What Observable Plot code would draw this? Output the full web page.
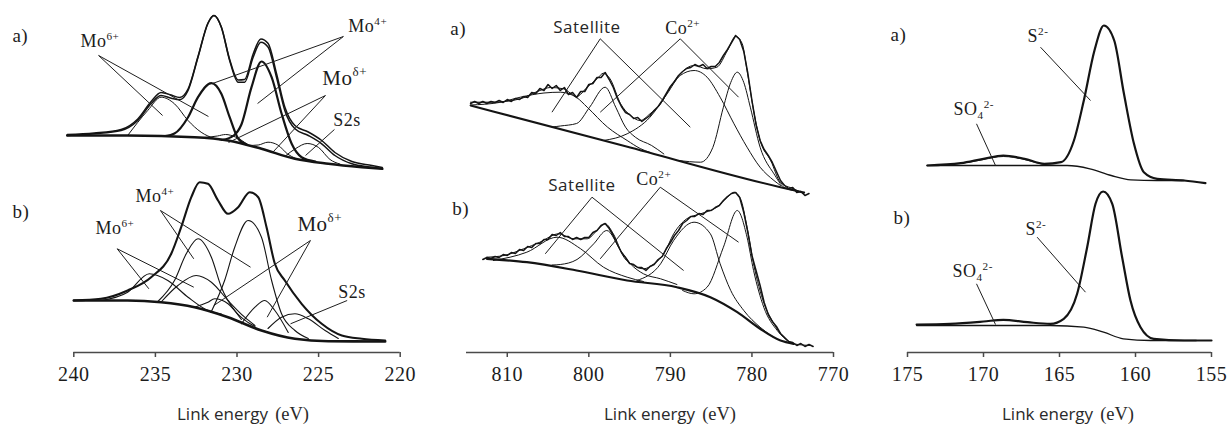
<!DOCTYPE html>
<html><head><meta charset="utf-8">
<script src="https://cdn.jsdelivr.net/npm/d3@7"></script>
<script src="https://cdn.jsdelivr.net/npm/@observablehq/plot@0.6"></script>
<style>
html,body{margin:0;padding:0;background:#fff;}
#wrap{position:relative;width:1228px;height:425px;overflow:hidden;background:#fff;}
.panel{position:absolute;top:0;}
#wrap svg text{letter-spacing:0.5px;}
.xt{position:absolute;top:402px;width:260px;text-align:center;white-space:nowrap;color:#2a2a2a;}
.xt .s{font-family:"Open Sans",sans-serif;font-size:17px;}
.xt .r{font-family:"Liberation Serif",serif;font-size:18.5px;margin-left:7px;}
</style></head><body><div id="wrap"></div>
<script>
// ---------- Mo 3d (binding energy eV, intensity a.u.) ----------
const moTicks = [240, 235, 230, 225, 220];
const moA_env = [[240.4,217],[238.75,218.7],[237.1,222],[236.08,232],[235.26,249],[234.65,257],[234.03,254.3],[233.52,252.7],[233.0,262],[232.39,295.3],[231.78,329],[231.41,337],[230.96,325.3],[230.45,292],[229.93,270.3],[229.53,270.3],[229.01,295.3],[228.54,310.3],[228.09,305.3],[227.58,275.3],[227.07,242],[226.45,223.7],[225.63,217],[224.81,208.7],[224.0,197],[222.96,188.7],[221.73,185.3],[221.1,183.7]];
const moA_raw = [[240.4,218],[238.75,219.5],[237.1,223],[236.08,233.5],[235.26,251],[234.65,260],[234.03,257.5],[233.52,255],[233.0,263.5],[232.39,296],[231.78,329.5],[231.41,337],[230.96,325.5],[230.45,293],[229.93,272.5],[229.53,273],[229.01,298.5],[228.54,313.5],[228.09,309],[227.58,279],[227.07,245.5],[226.45,227],[225.63,220.5],[224.81,212],[224.0,200],[222.96,191],[221.73,187],[221.1,185]];
const moA_base = [[240.4,217],[236.7,217],[232.6,215.3],[230.55,212],[228.5,203.7],[226.45,193.7],[224.4,188.7],[222.35,185.3],[221.1,183.7]];
const moA_mo4a = [[234.4,216.5],[233.83,219],[233.0,235.3],[232.39,255.3],[231.57,269.3],[230.96,258.7],[230.45,235.3],[229.93,214],[229.4,208]];
const moA_mo4b = [[230.9,212.5],[230.2,217],[229.73,228],[229.11,265.3],[228.5,291],[227.88,275.3],[227.27,239],[226.65,208.7],[226.04,195.3],[225.2,191]];
const moA_mo6 = [[236.7,217],[235.47,242],[234.65,255.3],[233.83,248.7],[233.0,232],[232.2,220.3],[231.37,214],[230.9,212.3]];
const moA_d1 = [[232.0,215],[231.2,216.5],[230.7,218],[230.1,215.5],[229.4,208.5]];
const moA_d2 = [[229.3,207],[228.7,207.5],[228.1,210.3],[227.5,207.5],[226.9,198.5],[226.4,194]];
const moA_s2s = [[227.0,197],[226.4,204],[225.7,209],[225.0,205],[224.3,193],[223.7,188.5]];

const moB_env = [[240.0,52],[238.34,53.7],[236.7,62],[235.26,75.3],[234.03,98.7],[233.42,125.3],[232.8,155.3],[232.29,170.3],[231.78,168.7],[231.16,152],[230.55,138.7],[229.93,145.3],[229.22,160.3],[228.7,155.3],[228.19,125.3],[227.68,88.7],[227.07,72],[226.04,48.7],[224.81,28.7],[223.58,17],[222.35,13.7],[220.92,12]];
const moB_base = [[240.0,52],[236.7,52],[234.65,50.3],[232.6,45.3],[230.55,35.3],[228.5,22],[226.45,13.7],[224.4,11.3],[220.92,11]];
const moB_mo6a = [[238.3,52],[236.7,60.3],[235.37,78.7],[234.24,72],[233.0,55.3],[231.78,42],[230.96,38.5]];
const moB_mo4a = [[234.85,51],[233.83,72],[233.11,98.7],[232.39,113.7],[231.57,95.3],[230.96,65.3],[230.14,42],[229.32,30],[228.9,26]];
const moB_mo6b = [[234.65,50.5],[233.62,67],[232.5,77],[231.57,70.3],[230.55,52],[229.53,35.3],[228.9,27]];
const moB_mo4b = [[231.6,40],[230.76,72],[230.14,105.3],[229.32,132],[228.5,115.3],[227.88,72],[227.27,38.7],[226.45,22],[225.63,14]];
const moB_d1 = [[232.6,45.3],[231.78,50.3],[231.37,53.7],[230.55,48.7],[229.73,33]];
const moB_d2 = [[229.73,28.7],[228.9,45.3],[228.3,52],[227.68,42],[226.86,20]];
const moB_s2s = [[228.1,24],[227.27,35.3],[226.45,38.7],[225.63,33.7],[224.6,22],[223.79,14]];

const moLabels = [
  {e:243.76,v:317,t:"a)"},{e:239.59,v:311,t:"Mo^{6+}"},{e:223.18,v:326,t:"Mo^{4+}"},{e:224.77,v:274,t:"Mo^{δ+}"},{e:224.1,v:232,t:"S2s"},
  {e:243.76,v:141,t:"b)"},{e:236.22,v:156,t:"Mo^{4+}"},{e:238.67,v:124,t:"Mo^{6+}"},{e:226.3,v:128,t:"Mo^{δ+}"},{e:223.8,v:60,t:"S2s"}
];
const moLeaders = [
  {x1:238.48,y1:297,x2:234.56,y2:237},{x1:238.48,y1:297,x2:231.75,y2:236},
  {x1:223.48,y1:316,x2:231.5,y2:269},{x1:223.48,y1:316,x2:228.74,y2:249},
  {x1:224.58,y1:257,x2:230.52,y2:210},{x1:224.58,y1:257,x2:227.82,y2:200},
  {x1:224.03,y1:223,x2:225.8,y2:197},
  {x1:234.69,y1:142,x2:232.65,y2:93.7},{x1:234.69,y1:142,x2:229.17,y2:85.3},
  {x1:237.34,y1:103.7,x2:235.4,y2:63.7},{x1:237.34,y1:103.7,x2:232.65,y2:65.3},
  {x1:225.5,y1:112,x2:231.42,y2:47},{x1:225.5,y1:112,x2:228.15,y2:35.3},
  {x1:223.25,y1:52,x2:226.72,y2:28.7}
];

// ---------- Co 2p ----------
const coTicks = [810, 800, 790, 780, 770];
const coA_raw = [[814.5,249],[814,251],[813.5,249],[813,251],[812.5,249],[812,251],[811.5,250],[811,252],[810.5,250],[810,253],[809.5,251],[809,254],[808.5,253],[808,256],[807.5,255],[807,260],[806.5,259],[806,264],[805.5,262],[805,268],[804.5,264],[804,267],[803.5,262],[803,265],[802.5,258],[802,260],[801.5,255],[801,261],[800.5,261],[800,268],[799.5,269],[799,275],[798.5,275],[798,280],[797.5,273],[797,265],[796.5,254],[796,246],[795.5,240],[795,238],[794.5,234],[794,235],[793.5,231],[793,234],[792.5,237],[792,242],[791.5,246],[791,252],[790.5,259],[790,266],[789.5,271],[789,277],[788.5,281],[788,284],[787.5,285],[787,288],[786.5,286],[786,288],[785.5,284],[785,286],[784.5,286],[784,290],[783.5,297],[783,303],[782.5,310],[782,317],[781.5,313],[781,301],[780.5,279],[780,252],[779.5,228],[779,212],[778.5,203],[778,197],[777.5,190],[777,181],[776.5,172],[776,167],[775.5,164],[775,165],[774.5,160],[774,161],[773.5,157],[773,159]];
const coA_fit = [[814.5,250.3],[811.7,250.3],[808.4,253.7],[806.0,262],[804.7,265],[803.1,263.7],[801.5,256],[800.2,265.3],[799.0,273.7],[798.2,279.3],[797.4,273.7],[796.1,248.7],[794.9,237],[793.7,232],[792.5,238.7],[791.2,248.7],[790.0,265.3],[788.8,278.7],[787.1,287],[785.5,283.7],[784.3,285.3],[783.0,302],[782.0,316],[781.2,309],[780.6,282],[779.8,242],[779.0,212],[777.7,192],[776.5,170],[774.9,163.7],[773.6,158.7]];
const coA_base = [[814.5,247],[795.5,206.2],[776.5,165.3],[773.6,160]];
const coA_sat1 = [[814.5,247.5],[811.0,250],[808.4,255.3],[805.5,259.5],[803.5,260.3],[801.5,255],[800.2,245.3],[797.7,225.3],[795.3,212],[793.7,204],[792.5,200]];
const coA_co1 = [[804.5,225.5],[803.5,226.5],[801.5,229],[799.9,245.3],[798.0,265.3],[796.7,245.3],[795.5,225.3],[794.3,215.3],[792.3,207],[790.8,198.5]];
const coA_sat2 = [[798.2,212],[795.3,218.7],[792.5,235.3],[790.4,258.7],[788.8,277],[787.1,282],[785.5,275.3],[783.9,255.3],[782.2,228.7],[780.6,205.3],[779.0,185.3],[777.3,172],[776.5,167]];
const coA_co2 = [[789.0,192],[786.3,190.3],[784.8,205],[783.5,245.3],[782.6,270],[781.8,280.3],[781.0,270],[780.2,245.3],[779.0,205.3],[777.3,178.7],[776.1,165.3],[774.8,162]];

const coB_raw = [[813,93],[812.5,95],[812,94],[811.5,96],[811,95],[810.5,98],[810,97],[809.5,100],[809,99],[808.5,103],[808,102],[807.5,106],[807,105],[806.5,109],[806,109],[805.5,113],[805,113],[804.5,118],[804,117],[803.5,120],[803,116],[802.5,116],[802,113],[801.5,115],[801,113],[800.5,115],[800,115],[799.5,120],[799,122],[798.5,127],[798,129],[797.5,124],[797,117],[796.5,108],[796,100],[795.5,95],[795,89],[794.5,88],[794,85],[793.5,85],[793,82],[792.5,86],[792,88],[791.5,93],[791,96],[790.5,104],[790,110],[789.5,117],[789,122],[788.5,129],[788,132],[787.5,136],[787,136],[786.5,139],[786,138],[785.5,142],[785,142],[784.5,145],[784,147],[783.5,152],[783,156],[782.5,159],[782,160],[781.5,155],[781,140],[780.5,120],[780,97],[779.5,82],[779,67],[778.5,50],[778,38],[777.5,31],[777,26],[776.5,19],[776,15],[775.5,11],[775,10],[774.5,7],[774,9],[773.5,6],[773,8],[772.5,6]];
const coB_fit = [[812.5,95.3],[810.4,97],[808.0,103.7],[806.0,110.3],[803.7,118.7],[801.9,113.7],[800.2,113.7],[799.0,122],[798.0,128.7],[797.0,118.7],[795.7,95.3],[794.5,87],[793.3,83.7],[792.0,88.7],[790.8,98.7],[789.6,118.7],[788.0,133.7],[786.3,138.7],[784.3,145.3],[783.0,155.3],[782.2,160.3],[781.4,153.7],[780.6,125.3],[779.8,88.7],[778.5,48.7],[777.3,28.7],[776.1,15.3],[774.9,8.7],[772.8,7]];
const coB_base = [[812.5,93.7],[807.6,90.3],[801.5,82],[795.3,72],[789.2,65.3],[785.1,55.3],[781.8,40.3],[779.0,23.7],[776.5,12],[774.9,8.7]];
const coB_sat1 = [[811.7,92],[807.6,100.3],[803.9,115.3],[801.0,103.7],[798.2,85.3],[795.3,75.3],[793.3,71]];
const coB_co1 = [[804.5,87.5],[803.5,88],[801.45,93],[799.4,108.7],[797.8,122],[796.1,102],[794.9,88.7],[793.3,78.7],[791.2,73.7],[789.2,68]];
const coB_sat2 = [[794.1,72],[791.2,88.7],[789.6,112],[787.1,130.3],[785.1,118.7],[783.9,88.7],[782.6,62],[781.0,42],[779.0,25.3],[777.5,16]];
const coB_co2 = [[788.5,62],[787.1,58.7],[785.5,65.3],[783.5,105.3],[781.8,142],[780.6,115.3],[779.8,82],[778.55,45.3],[776.9,22],[775.3,10]];

const coLabels = [
  {e:816.99,v:324,t:"a)"},{e:804.36,v:325,t:"Satellite"},{e:790.63,v:324,t:"Co^{2+}"},
  {e:816.74,v:144,t:"b)"},{e:804.97,v:167,t:"Satellite"},{e:794.18,v:173,t:"Co^{2+}"}
];
const coLeaders = [
  {x1:798.6,y1:313.7,x2:804.52,y2:240.3},{x1:798.6,y1:313.7,x2:787.56,y2:225.3},
  {x1:788.79,y1:313.7,x2:798.6,y2:240.3},{x1:788.79,y1:313.7,x2:781.64,y2:255.3},
  {x1:799.61,y1:155.3,x2:805.34,y2:98.7},{x1:799.61,y1:155.3,x2:788.38,y2:82},
  {x1:791.24,y1:165.3,x2:798.6,y2:93.7},{x1:791.24,y1:165.3,x2:781.64,y2:110.3}
];

// ---------- S 2p ----------
const sTicks = [175, 170, 165, 160, 155];
const sA_env = [[173.7,187],[171.5,189.3],[170.0,193.7],[168.7,197],[167.3,193.7],[166.0,188.7],[164.9,190.3],[164.05,212],[163.4,252],[162.7,302],[162.08,327],[161.4,312],[160.76,258.7],[160.1,208.7],[159.45,180.3],[158.57,173.7],[156.8,172],[155.4,169.3]];
const sA_base = [[173.7,187],[167.8,187],[164.5,187],[163.0,183.7],[161.6,177],[160.3,172.7],[158.6,172],[156.8,172]];
const sA_so4 = [[173.0,187.5],[171.5,189],[170.0,193],[168.7,196],[167.3,193],[166.0,188],[165.0,187]];
const sB_env = [[174.4,28],[172.2,28.7],[170.0,31],[168.7,32.7],[167.1,30.3],[165.6,28.7],[164.72,33.7],[163.84,58.7],[163.18,105.3],[162.63,148.7],[162.13,161],[161.53,148.7],[160.88,95.3],[160.33,52],[159.67,25.3],[158.8,13.7],[156.8,12],[155.0,12]];
const sB_base = [[174.4,27],[165.6,27],[163.4,25.3],[162.1,20.3],[160.8,13.7],[159.0,12],[156.0,12]];
const sLabels = [
  {e:176.12,v:318,t:"a)"},{e:167.1,v:316,t:"S^{2-}"},{e:171.97,v:243,t:"SO_{4}^{2-}"},
  {e:175.92,v:135,t:"b)"},{e:167.24,v:123,t:"S^{2-}"},{e:172.04,v:81,t:"SO_{4}^{2-}"}
];
const sLeaders = [
  {x1:166.25,y1:305.3,x2:162.96,y2:252},{x1:170.46,y1:228.7,x2:169.21,y2:187},
  {x1:166.47,y1:115.3,x2:163.29,y2:60.3},{x1:170.46,y1:68.7,x2:169.21,y2:28}
];

// ---------- drawing ----------
const INK = "#141414";
const X = d => d[0], Y = d => d[1];
function ln(data, w, curve = "monotone-x", color = INK) {
  return Plot.line(data, {x: X, y: Y, curve, stroke: color, strokeWidth: w, strokeLinejoin: "round", strokeLinecap: "round"});
}

function richText(svg) {
  svg.querySelectorAll("text").forEach(t => {
    const s = t.textContent;
    if (!/[\^_]\{/.test(s)) return;
    while (t.firstChild) t.removeChild(t.firstChild);
    const re = /([\^_])\{([^}]*)\}|([^\^_]+)/g;
    let m, cur = 0;
    const R = 0.62;
    while ((m = re.exec(s))) {
      const ts = document.createElementNS("http://www.w3.org/2000/svg", "tspan");
      let target, ratio;
      if (m[3] !== undefined) { ts.textContent = m[3]; target = 0; ratio = 1; }
      else { ts.textContent = m[2]; ratio = R; target = m[1] === "^" ? -0.42 : 0.22; ts.setAttribute("font-size", (R * 100) + "%"); }
      const dy = (target - cur) / ratio;
      if (dy) ts.setAttribute("dy", dy.toFixed(3) + "em");
      cur = target;
      t.appendChild(ts);
    }
  });
}

function makePanel(cfg) {
  const serif = cfg.labels.filter(d => d.t !== "Satellite");
  const sans = cfg.labels.filter(d => d.t === "Satellite");
  const svg = Plot.plot({
    width: cfg.width, height: 400,
    marginLeft: cfg.mL, marginRight: cfg.mR, marginTop: 0, marginBottom: 48,
    x: {domain: cfg.domain, label: null},
    y: {domain: [0, 352], axis: null},
    style: {fontFamily: '"Liberation Serif", serif', overflow: "visible", background: "transparent", maxWidth: "none"},
    marks: [
      Plot.ruleY([0], {stroke: "#4a4a4a", strokeWidth: 1.6}),
      Plot.axisX({ticks: cfg.ticks, tickFormat: d => String(d), tickSize: 5, tickPadding: 9, fontSize: 20,
                  stroke: "#4a4a4a", fill: "#1c1c1c", strokeWidth: 1.5, label: null}),
      ...cfg.marks,
      Plot.link(cfg.leaders, {x1: "x1", y1: "y1", x2: "x2", y2: "y2", stroke: "#1e1e1e", strokeWidth: 1}),
      Plot.text(serif, {x: "e", y: "v", text: "t", textAnchor: "start", fontSize: 18, fill: "#1c1c1c"}),
      Plot.text(sans, {x: "e", y: "v", text: "t", textAnchor: "start", fontSize: 17, fill: "#262626",
                       fontFamily: '"Open Sans", sans-serif'})
    ]
  });
  svg.querySelectorAll("text").forEach(t => {
    const s = t.textContent;
    if (s.includes("δ")) t.setAttribute("font-size", "21");
    else if (/^[ab]\)$/.test(s)) t.setAttribute("font-size", "19");
  });
  richText(svg);
  const div = document.createElement("div");
  div.className = "panel";
  div.style.left = cfg.left + "px";
  div.style.width = cfg.width + "px";
  div.appendChild(svg);
  document.getElementById("wrap").appendChild(div);
  return svg;
}

makePanel({
  left: 0, width: 430, mL: 73.3, mR: 30.3, domain: [240, 220], ticks: moTicks,
  labels: moLabels, leaders: moLeaders,
  marks: [
    ln(moA_base, 2.6), ln(moA_mo6, 1), ln(moA_d1, 1), ln(moA_d2, 1), ln(moA_s2s, 1),
    ln(moA_mo4a, 2.2), ln(moA_mo4b, 2.2), ln(moA_env, 1.5), ln(moA_raw, 1.5),
    ln(moB_base, 2.6), ln(moB_mo6a, 1.1), ln(moB_mo4a, 1.1), ln(moB_mo6b, 1.1), ln(moB_mo4b, 1.1),
    ln(moB_d1, 1.1), ln(moB_d2, 1.1), ln(moB_s2s, 1.1), ln(moB_env, 2.1)
  ]
});
makePanel({
  left: 430, width: 420, mL: 36, mR: 17, domain: [815, 770], ticks: coTicks,
  labels: coLabels, leaders: coLeaders,
  marks: [
    ln(coA_base, 2.0), ln(coA_sat1, 1), ln(coA_co1, 1), ln(coA_sat2, 1), ln(coA_co2, 1), ln(coA_fit, 1),
    ln(coA_raw, 1.5, "linear"),
    ln(coB_base, 2.2), ln(coB_sat1, 1), ln(coB_co1, 1), ln(coB_sat2, 1), ln(coB_co2, 1), ln(coB_fit, 1),
    ln(coB_raw, 1.5, "linear")
  ]
});
makePanel({
  left: 850, width: 378, mL: 57, mR: 17, domain: [175, 155], ticks: sTicks,
  labels: sLabels, leaders: sLeaders,
  marks: [
    ln(sA_base, 1.3), ln(sA_so4, 1), ln(sA_env, 2.2),
    ln(sB_base, 1.3), ln(sB_env, 2.2)
  ]
});

// axis titles
[243, 670, 1068].forEach(cx => {
  const d = document.createElement("div");
  d.className = "xt";
  d.style.left = (cx - 130) + "px";
  d.innerHTML = '<span class="s">Link energy</span><span class="r">(eV)</span>';
  document.getElementById("wrap").appendChild(d);
});
</script></body></html>
